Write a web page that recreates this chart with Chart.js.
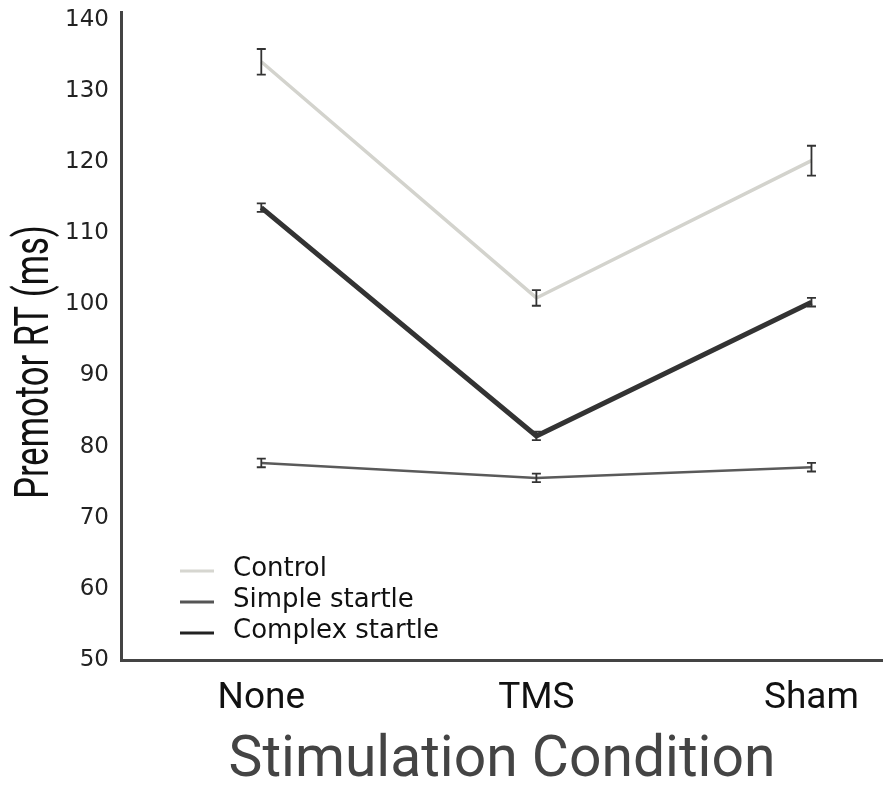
<!DOCTYPE html>
<html>
<head>
<meta charset="utf-8">
<script src="https://cdn.jsdelivr.net/npm/chart.js@4.4.1/dist/chart.umd.min.js"></script>
<style>
  html, body { margin: 0; padding: 0; background: #fff; }
  #wrap { width: 883px; height: 790px; }
</style>
</head>
<body>
<div id="wrap"><canvas id="rt"></canvas></div>
<script>
// stimulation conditions along the x axis
const conditions = ['None', 'TMS', 'Sham'];

// mean premotor RT (ms) per condition
const controlRT = [134.1, 100.9, 120.2];
const simpleRT = [77.7, 75.6, 77.1];
const complexRT = [113.6, 81.5, 100.3];

// standard error per condition
const controlErr = [1.8, 1.1, 2.1];
const simpleErr = [0.6, 0.6, 0.6];
const complexErr = [0.6, 0.6, 0.6];

const yTicks = [50, 60, 70, 80, 90, 100, 110, 120, 130, 140];

function toPoints(values) {
    return values.map((v, i) => ({x: i, y: v}));
}

// vertical error bars with small caps, drawn over the lines
const errorBars = {
    id: 'errorBars',
    afterDatasetsDraw(chart) {
        const ctx = chart.ctx;
        const yScale = chart.scales.y;
        ctx.save();
        ctx.strokeStyle = '#333';
        ctx.lineWidth = 1.8;
        chart.data.datasets.forEach((ds, di) => {
            const meta = chart.getDatasetMeta(di);
            meta.data.forEach((pt, i) => {
                const v = ds.data[i].y;
                const e = ds.errors[i];
                const top = yScale.getPixelForValue(v + e);
                const bot = yScale.getPixelForValue(v - e);
                ctx.beginPath();
                ctx.moveTo(pt.x, top);
                ctx.lineTo(pt.x, bot);
                ctx.moveTo(pt.x - 4.5, top);
                ctx.lineTo(pt.x + 4.5, top);
                ctx.moveTo(pt.x - 4.5, bot);
                ctx.lineTo(pt.x + 4.5, bot);
                ctx.stroke();
            });
        });
        ctx.restore();
    }
};

// legend in the lower left corner of the plot + narrow rotated y title
const extras = {
    id: 'extras',
    afterDraw(chart) {
        const ctx = chart.ctx;
        ctx.save();
        ctx.font = '26px "DejaVu Sans"';
        ctx.textBaseline = 'middle';
        chart.data.datasets.forEach((ds, i) => {
            const y = 569 + i * 31;
            ctx.strokeStyle = ds.legendColor;
            ctx.lineWidth = 3;
            ctx.beginPath();
            ctx.moveTo(180, y + 2);
            ctx.lineTo(214, y + 2);
            ctx.stroke();
            ctx.fillStyle = '#111';
            ctx.fillText(ds.label, 233, y);
        });
        ctx.restore();

        ctx.save();
        ctx.translate(36, 362);
        ctx.rotate(-Math.PI / 2);
        ctx.scale(0.72, 1);
        ctx.font = '48px Roboto';
        ctx.fillStyle = '#111';
        ctx.textAlign = 'center';
        ctx.textBaseline = 'middle';
        ctx.fillText('Premotor RT (ms)', 0, 0);
        ctx.restore();
    }
};

new Chart(document.getElementById('rt'), {
    type: 'line',
    data: {
        datasets: [{
            label: 'Control',
            data: toPoints(controlRT),
            errors: controlErr,
            borderColor: '#d3d3cd',
            legendColor: '#d6d6d0',
            borderWidth: 3.5
        }, {
            label: 'Simple startle',
            data: toPoints(simpleRT),
            errors: simpleErr,
            borderColor: '#5a5a5a',
            legendColor: '#555',
            borderWidth: 2.5
        }, {
            label: 'Complex startle',
            data: toPoints(complexRT),
            errors: complexErr,
            borderColor: '#333',
            legendColor: '#222',
            borderWidth: 5
        }]
    },
    options: {
        responsive: true,
        maintainAspectRatio: false,
        animation: false,
        elements: {
            point: { radius: 0, hoverRadius: 0 },
            line: { tension: 0 }
        },
        layout: { padding: { top: 12, left: 0, right: 0, bottom: 0 } },
        plugins: {
            legend: { display: false },
            tooltip: { enabled: false }
        },
        scales: {
            x: {
                type: 'linear',
                min: -0.51,
                max: 2.26,
                afterBuildTicks: s => { s.ticks = conditions.map((c, i) => ({value: i})); },
                afterFit: s => { s.height = 130; s.paddingLeft = 0; s.paddingRight = 0; },
                grid: { display: false, drawTicks: false },
                border: { color: '#444', width: 3 },
                ticks: {
                    padding: 17,
                    color: '#111',
                    font: { family: 'Roboto', size: 37 },
                    callback: v => conditions[v]
                },
                title: {
                    display: true,
                    text: 'Stimulation Condition',
                    color: '#444',
                    font: { family: 'Roboto', size: 57, lineHeight: 1 },
                    padding: { top: 0, bottom: 0 }
                }
            },
            y: {
                min: 50,
                max: 141.1,
                afterBuildTicks: s => { s.ticks = yTicks.map(v => ({value: v})); },
                afterFit: s => { s.width = 121; s.paddingTop = 0; s.paddingBottom = 0; },
                grid: { display: false, drawTicks: false },
                border: { color: '#444', width: 3 },
                ticks: {
                    padding: 12,
                    color: '#222',
                    font: { family: 'DejaVu Sans', size: 23 }
                }
            }
        }
    },
    plugins: [errorBars, extras]
});
</script>
</body>
</html>
